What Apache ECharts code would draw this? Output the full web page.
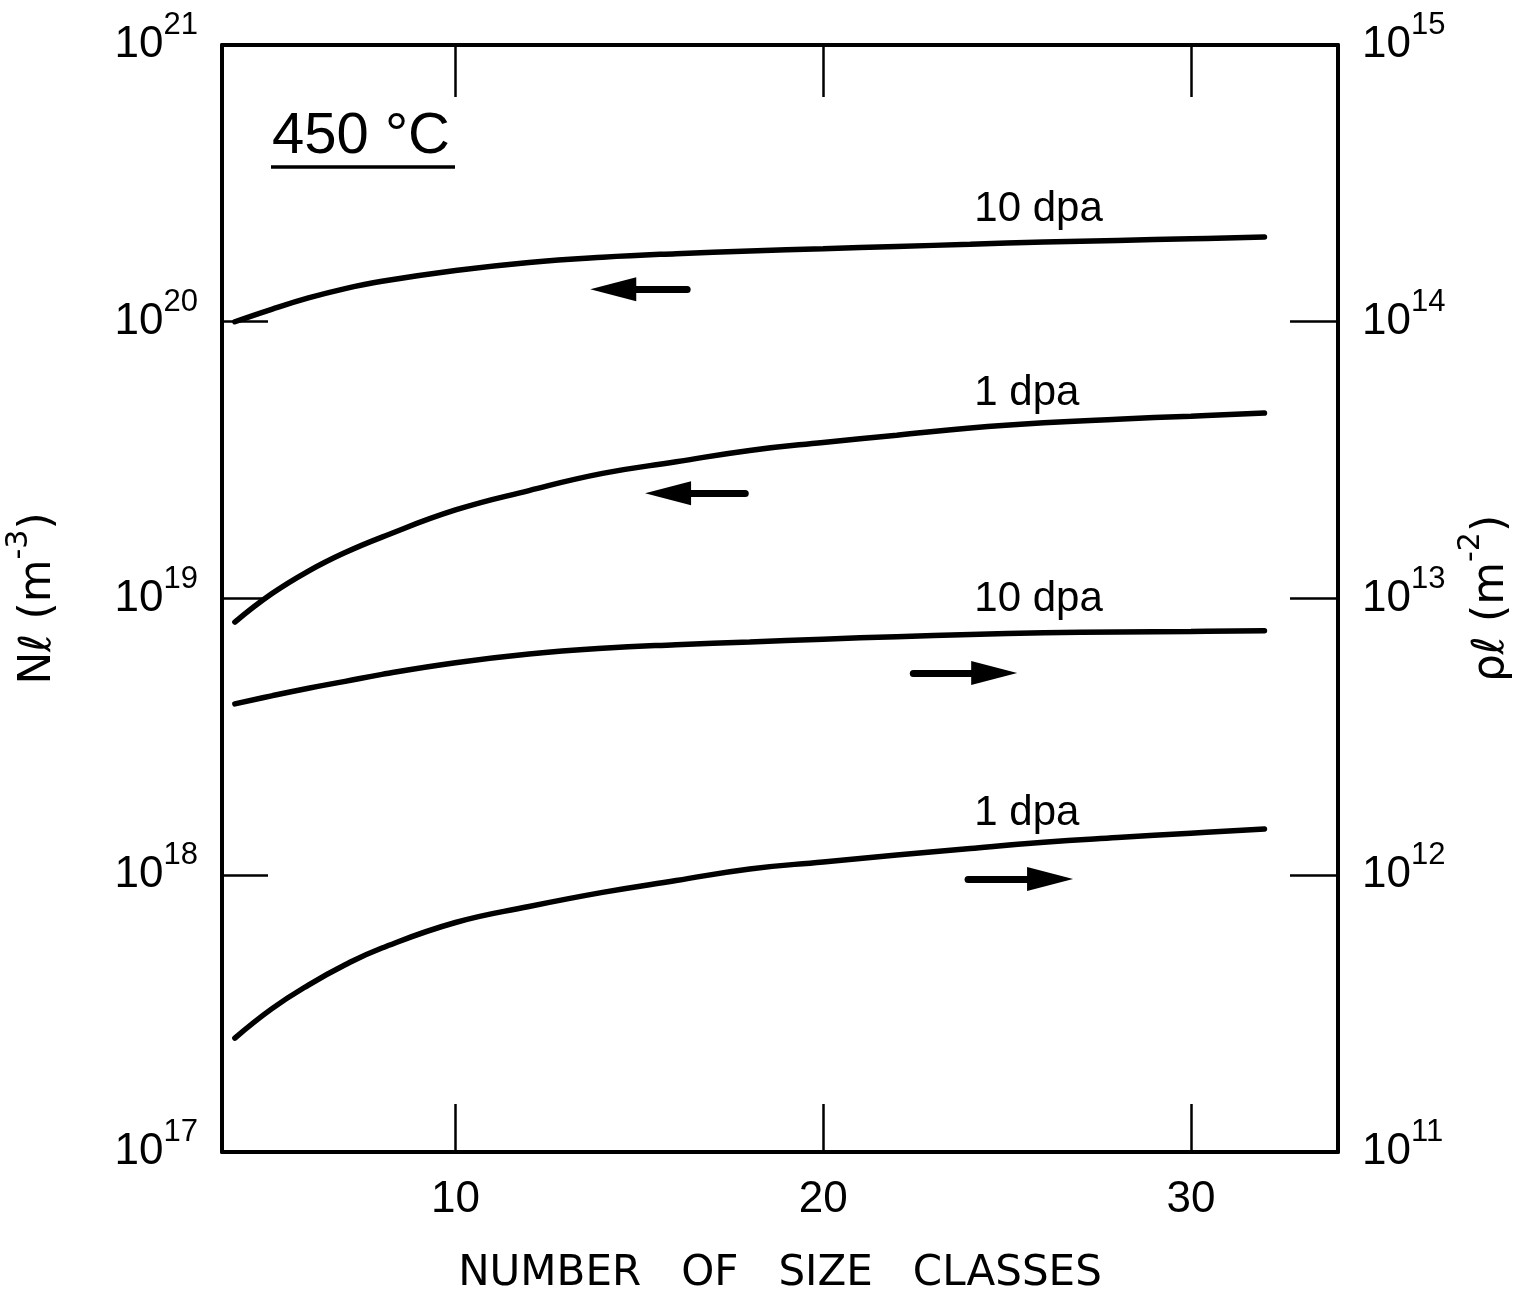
<!DOCTYPE html>
<html>
<head>
<meta charset="utf-8">
<script src="https://cdn.jsdelivr.net/npm/echarts@6/dist/echarts.min.js"></script>
<style>
  html, body { margin: 0; padding: 0; background: #fff; }
  #chart { width: 1520px; height: 1296px; }
</style>
</head>
<body>
<div id="chart"></div>
<script>
// Number of size classes used in the calculation
const sizeClasses = [4, 5, 6, 7, 8, 10, 12, 14, 16, 18, 20, 22, 24, 26, 28, 30, 32];

// Loop number density N_l (m^-3), left axis
const loopNumberDensity10dpa = [1.00e20, 1.109e20, 1.219e20, 1.318e20, 1.400e20, 1.531e20, 1.637e20, 1.710e20, 1.762e20, 1.803e20, 1.837e20, 1.871e20, 1.905e20, 1.941e20, 1.968e20, 1.995e20, 2.023e20];
const loopNumberDensity1dpa = [8.22e18, 1.040e19, 1.256e19, 1.466e19, 1.667e19, 2.089e19, 2.455e19, 2.831e19, 3.119e19, 3.428e19, 3.664e19, 3.890e19, 4.130e19, 4.315e19, 4.446e19, 4.560e19, 4.677e19];

// Loop line density rho_l (m^-2), right axis
const loopLineDensity10dpa = [4.16e12, 4.45e12, 4.74e12, 5.02e12, 5.32e12, 5.86e12, 6.30e12, 6.61e12, 6.81e12, 6.97e12, 7.13e12, 7.28e12, 7.41e12, 7.52e12, 7.57e12, 7.60e12, 7.64e12];
const loopLineDensity1dpa = [2.58e11, 3.29e11, 4.01e11, 4.75e11, 5.46e11, 6.75e11, 7.71e11, 8.67e11, 9.57e11, 1.054e12, 1.117e12, 1.183e12, 1.250e12, 1.315e12, 1.368e12, 1.419e12, 1.469e12];

// Tick labels
const xTickValues = [10, 20, 30];
const doseLabels = ['10 dpa', '1 dpa', '10 dpa', '1 dpa'];
const temperatureLabel = '450 °C';

// Which size class carries each dose label
const labelAtSizeClass = 24;

// Axis-pointer arrows: [tail x, tip x, y] in data units
const arrowNumber10dpa = [16.3, 13.67, 1.31e20];
const arrowNumber1dpa = [17.88, 15.16, 2.40e19];
const arrowLine10dpa = [22.45, 25.27, 5.38e12];
const arrowLine1dpa = [23.94, 26.79, 9.70e11];

const FONT = '"Liberation Sans", Arial, sans-serif';
const WIDE_FONT = '"DejaVu Sans", sans-serif';
const INK = '#000';

const powerRich = {
  b: { fontSize: 44, lineHeight: 70, fontFamily: FONT, color: INK, verticalAlign: 'middle' },
  s: { fontSize: 31, lineHeight: 31, fontFamily: FONT, color: INK, verticalAlign: 'top' }
};
const nameRich = {
  m: { fontSize: 44, lineHeight: 70, fontFamily: WIDE_FONT, color: INK, verticalAlign: 'middle' },
  s: { fontSize: 30, lineHeight: 30, fontFamily: WIDE_FONT, color: INK, verticalAlign: 'top' }
};
const powerLabel = v => '{b|10}{s|' + Math.round(Math.log10(v)) + '}';

function curveData(values, label) {
  return sizeClasses.map((x, i) => {
    if (x !== labelAtSizeClass) return [x, values[i]];
    return {
      value: [x, values[i]],
      label: {
        show: true, position: 'top', align: 'left', distance: 14, offset: [4, 0],
        formatter: label, fontSize: 42, fontFamily: FONT, color: INK
      }
    };
  });
}

// Arrow head centre sits half a head-length behind the tip
const HEAD_UNITS = 0.62;
function arrowMark(a) {
  const dir = Math.sign(a[1] - a[0]);
  return {
    silent: true,
    symbol: ['none', 'triangle'],
    label: { show: false },
    emphasis: { disabled: true },
    lineStyle: { color: INK, width: 7, type: 'solid', cap: 'round' },
    data: [[
      { coord: [a[0], a[2]], symbol: 'none' },
      { coord: [a[1] - dir * HEAD_UNITS, a[2]], symbol: 'triangle', symbolSize: [24, 46] }
    ]]
  };
}

function curveSeries(values, yIndex, label, arrow) {
  return {
    type: 'line',
    xAxisIndex: 0,
    yAxisIndex: yIndex,
    data: curveData(values, label),
    smooth: 0.45,
    symbol: 'circle',
    symbolSize: 0,
    showSymbol: true,
    lineStyle: { color: INK, width: 5.5, cap: 'round' },
    itemStyle: { color: INK },
    emphasis: { disabled: true },
    markLine: arrowMark(arrow)
  };
}

const frameLine = { show: true, onZero: false, lineStyle: { color: INK, width: 4 } };
const tickStyle = { color: INK, width: 2.5 };

const chart = echarts.init(document.getElementById('chart'), null, { renderer: 'canvas' });
chart.setOption({
  animation: false,
  backgroundColor: '#fff',
  grid: { left: 222, right: 182, top: 45, bottom: 144, outerBoundsMode: 'none', containLabel: false },
  xAxis: [
    {
      type: 'value', position: 'bottom', min: 3.65, max: 34,
      axisLine: frameLine,
      axisTick: { inside: true, length: 48, customValues: xTickValues, lineStyle: tickStyle },
      axisLabel: { customValues: xTickValues, fontSize: 44, fontFamily: FONT, color: INK, margin: 26 },
      splitLine: { show: false },
      name: 'NUMBER   OF   SIZE   CLASSES', nameLocation: 'middle', nameGap: 101,
      nameTextStyle: { fontSize: 42, fontFamily: WIDE_FONT, color: INK }
    },
    {
      type: 'value', position: 'top', min: 3.65, max: 34,
      axisLine: frameLine,
      axisTick: { inside: true, length: 52, customValues: xTickValues, lineStyle: tickStyle },
      axisLabel: { show: false },
      splitLine: { show: false }
    }
  ],
  yAxis: [
    {
      type: 'log', logBase: 10, min: 1e17, max: 1e21, position: 'left',
      axisLine: frameLine,
      axisTick: { inside: true, length: 46, lineStyle: tickStyle },
      minorTick: { show: false },
      axisLabel: { formatter: powerLabel, rich: powerRich, margin: 24 },
      splitLine: { show: false },
      name: '{m|Nℓ (m}{s|-3}{m|)}', nameLocation: 'middle', nameRotate: 90, nameGap: 148,
      nameTextStyle: { rich: nameRich }
    },
    {
      type: 'log', logBase: 10, min: 1e11, max: 1e15, position: 'right',
      axisLine: frameLine,
      axisTick: { inside: true, length: 48, lineStyle: tickStyle },
      minorTick: { show: false },
      axisLabel: { formatter: powerLabel, rich: powerRich, margin: 24 },
      splitLine: { show: false },
      name: '{m|ρℓ (m}{s|-2}{m|)}', nameLocation: 'middle', nameRotate: 90, nameGap: 110,
      nameTextStyle: { rich: nameRich }
    }
  ],
  series: [
    curveSeries(loopNumberDensity10dpa, 0, doseLabels[0], arrowNumber10dpa),
    curveSeries(loopNumberDensity1dpa, 0, doseLabels[1], arrowNumber1dpa),
    curveSeries(loopLineDensity10dpa, 1, doseLabels[2], arrowLine10dpa),
    curveSeries(loopLineDensity1dpa, 1, doseLabels[3], arrowLine1dpa)
  ],
  graphic: [
    { type: 'text', left: 272, top: 108, style: { text: temperatureLabel, fontSize: 58, fontFamily: FONT, fill: INK } },
    { type: 'line', shape: { x1: 271, y1: 167, x2: 455, y2: 167 }, style: { stroke: INK, lineWidth: 3.5 } }
  ]
});
</script>
</body>
</html>
